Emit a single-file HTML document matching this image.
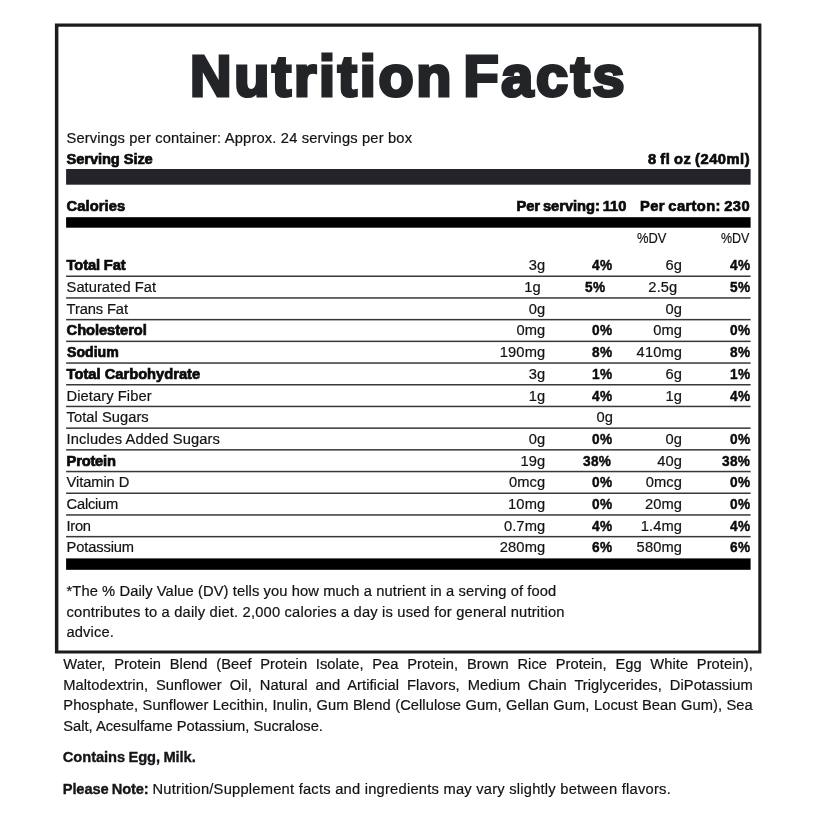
<!DOCTYPE html>
<html lang="en"><head><meta charset="utf-8"><title>Nutrition Facts</title>
<style>
html,body{margin:0;padding:0;background:#fff}
body{width:823px;height:823px;position:relative;overflow:hidden;font-family:"Liberation Sans",Arial,sans-serif;color:#121316}
p,section,div{margin:0;padding:0}
.gfx{position:absolute;left:0;top:0}
.t{position:absolute;white-space:nowrap;font-size:14.7px;line-height:20.0px;margin:0;font-weight:400;transform-origin:0 0;-webkit-text-stroke:0.2px #121316}
b.t{font-weight:700;color:#0b0b0d;-webkit-text-stroke:0.7px #0b0b0d}
b.pc{-webkit-text-stroke:0.45px #0b0b0d}
p b.t{color:#141518;-webkit-text-stroke:0.35px #141518}
h1.title{position:absolute;margin:0;white-space:nowrap;font-weight:700;font-size:57.5px;line-height:70px;letter-spacing:2.75px;word-spacing:-9.5px;color:#222428;-webkit-text-stroke:3.2px #222428}
.j{width:689.5px;text-align:justify;text-align-last:justify;white-space:normal;letter-spacing:0.05px}
</style></head><body>
<svg class="gfx" width="823" height="823" viewBox="0 0 823 823" aria-hidden="true"><path fill-rule="evenodd" fill="#1b1c20" d="M54.9 23.5H761.4V653.6H54.9Z M58.4 26.8V650.5H758.3V26.8Z"/><rect x="66.1" y="169.0" width="684.5" height="15.7" fill="#222428"/><rect x="66.1" y="217.2" width="684.5" height="10.5" fill="#000"/><rect x="66.1" y="558.4" width="684.5" height="11.4" fill="#000"/><rect x="66.1" y="275.50" width="684.5" height="1.5" fill="#37383b"/><rect x="66.1" y="297.20" width="684.5" height="1.5" fill="#37383b"/><rect x="66.1" y="318.90" width="684.5" height="1.5" fill="#37383b"/><rect x="66.1" y="340.60" width="684.5" height="1.5" fill="#37383b"/><rect x="66.1" y="362.30" width="684.5" height="1.5" fill="#37383b"/><rect x="66.1" y="384.00" width="684.5" height="1.5" fill="#37383b"/><rect x="66.1" y="405.70" width="684.5" height="1.5" fill="#37383b"/><rect x="66.1" y="427.40" width="684.5" height="1.5" fill="#37383b"/><rect x="66.1" y="449.10" width="684.5" height="1.5" fill="#37383b"/><rect x="66.1" y="470.80" width="684.5" height="1.5" fill="#37383b"/><rect x="66.1" y="492.50" width="684.5" height="1.5" fill="#37383b"/><rect x="66.1" y="514.20" width="684.5" height="1.5" fill="#37383b"/><rect x="66.1" y="535.90" width="684.5" height="1.5" fill="#37383b"/></svg>
<section class="label">
<h1 class="title" style="left:189.9px;top:41.06px">Nutrition Facts</h1>
<div class="hdr">
<span class="t" style="left:66.5px;top:128.3px;letter-spacing:0.166px">Servings per container: Approx. 24 servings per box</span>
<b class="t" style="left:66.6px;top:148.8px;letter-spacing:-0.104px">Serving Size</b>
<b class="t" style="left:648px;top:148.8px;letter-spacing:0.511px;word-spacing:-0.9px">8 fl oz (240ml)</b>
<b class="t" style="left:66.6px;top:196.4px;letter-spacing:0.076px">Calories</b>
<b class="t" style="left:516.4px;top:196.4px;letter-spacing:-0.046px;word-spacing:-1.0px">Per serving: 110</b>
<b class="t" style="left:640px;top:196.4px;letter-spacing:0.39px;word-spacing:-1.0px">Per carton: 230</b>
<span class="t" style="left:636.5px;top:227.9px;transform:translateY(-0.5px) scaleX(0.8784)">%DV</span>
<span class="t" style="left:721.2px;top:227.9px;transform:translateY(-0.5px) scaleX(0.8486)">%DV</span>
</div>
<div class="row">
<b class="t" style="left:66.6px;top:255.3px;letter-spacing:-0.139px">Total Fat</b>
<span class="t" style="left:528.74px;top:255.3px;letter-spacing:0.12px">3g</span>
<b class="t pc" style="left:592.17px;top:255.3px;letter-spacing:0.3px;transform:scaleX(0.93)">4%</b>
<span class="t" style="left:665.54px;top:255.3px;letter-spacing:0.12px">6g</span>
<b class="t pc" style="left:729.57px;top:255.3px;letter-spacing:0.3px;transform:scaleX(0.93)">4%</b>
</div>
<div class="row">
<span class="t" style="left:66.6px;top:277.0px;letter-spacing:0.033px">Saturated Fat</span>
<span class="t" style="left:524.34px;top:277.0px;letter-spacing:0.12px">1g</span>
<b class="t pc" style="left:585.07px;top:277.0px;letter-spacing:0.3px;transform:scaleX(0.93)">5%</b>
<span class="t" style="left:648.35px;top:277.0px;letter-spacing:0.12px">2.5g</span>
<b class="t pc" style="left:729.57px;top:277.0px;letter-spacing:0.3px;transform:scaleX(0.93)">5%</b>
</div>
<div class="row">
<span class="t" style="left:66.6px;top:298.7px;letter-spacing:-0.114px">Trans Fat</span>
<span class="t" style="left:528.74px;top:298.7px;letter-spacing:0.12px">0g</span>
<span class="t" style="left:665.54px;top:298.7px;letter-spacing:0.12px">0g</span>
</div>
<div class="row">
<b class="t" style="left:66.6px;top:320.4px;letter-spacing:-0.06px">Cholesterol</b>
<span class="t" style="left:516.38px;top:320.4px;letter-spacing:0.12px">0mg</span>
<b class="t pc" style="left:592.17px;top:320.4px;letter-spacing:0.3px;transform:scaleX(0.93)">0%</b>
<span class="t" style="left:653.18px;top:320.4px;letter-spacing:0.12px">0mg</span>
<b class="t pc" style="left:729.57px;top:320.4px;letter-spacing:0.3px;transform:scaleX(0.93)">0%</b>
</div>
<div class="row">
<b class="t" style="left:66.6px;top:342.1px;transform:scaleX(0.9599)">Sodium</b>
<span class="t" style="left:499.8px;top:342.1px;letter-spacing:0.12px">190mg</span>
<b class="t pc" style="left:592.17px;top:342.1px;letter-spacing:0.3px;transform:scaleX(0.93)">8%</b>
<span class="t" style="left:636.6px;top:342.1px;letter-spacing:0.12px">410mg</span>
<b class="t pc" style="left:729.57px;top:342.1px;letter-spacing:0.3px;transform:scaleX(0.93)">8%</b>
</div>
<div class="row">
<b class="t" style="left:66.6px;top:363.8px">Total Carbohydrate</b>
<span class="t" style="left:528.74px;top:363.8px;letter-spacing:0.12px">3g</span>
<b class="t pc" style="left:592.17px;top:363.8px;letter-spacing:0.3px;transform:scaleX(0.93)">1%</b>
<span class="t" style="left:665.54px;top:363.8px;letter-spacing:0.12px">6g</span>
<b class="t pc" style="left:729.57px;top:363.8px;letter-spacing:0.3px;transform:scaleX(0.93)">1%</b>
</div>
<div class="row">
<span class="t" style="left:66.6px;top:385.5px;letter-spacing:0.077px">Dietary Fiber</span>
<span class="t" style="left:528.74px;top:385.5px;letter-spacing:0.12px">1g</span>
<b class="t pc" style="left:592.17px;top:385.5px;letter-spacing:0.3px;transform:scaleX(0.93)">4%</b>
<span class="t" style="left:665.54px;top:385.5px;letter-spacing:0.12px">1g</span>
<b class="t pc" style="left:729.57px;top:385.5px;letter-spacing:0.3px;transform:scaleX(0.93)">4%</b>
</div>
<div class="row">
<span class="t" style="left:66.6px;top:407.2px;letter-spacing:0.042px">Total Sugars</span>
<span class="t" style="left:596.54px;top:407.2px;letter-spacing:0.12px">0g</span>
</div>
<div class="row">
<span class="t" style="left:66.6px;top:428.9px;letter-spacing:0.111px">Includes Added Sugars</span>
<span class="t" style="left:528.74px;top:428.9px;letter-spacing:0.12px">0g</span>
<b class="t pc" style="left:592.17px;top:428.9px;letter-spacing:0.3px;transform:scaleX(0.93)">0%</b>
<span class="t" style="left:665.54px;top:428.9px;letter-spacing:0.12px">0g</span>
<b class="t pc" style="left:729.57px;top:428.9px;letter-spacing:0.3px;transform:scaleX(0.93)">0%</b>
</div>
<div class="row">
<b class="t" style="left:66.6px;top:450.6px;letter-spacing:-0.218px">Protein</b>
<span class="t" style="left:520.44px;top:450.6px;letter-spacing:0.12px">19g</span>
<b class="t pc" style="left:583.09px;top:450.6px;letter-spacing:0.3px;transform:scaleX(0.93)">38%</b>
<span class="t" style="left:657.24px;top:450.6px;letter-spacing:0.12px">40g</span>
<b class="t pc" style="left:721.69px;top:450.6px;letter-spacing:0.3px;transform:scaleX(0.93)">38%</b>
</div>
<div class="row">
<span class="t" style="left:66.6px;top:472.3px;letter-spacing:-0.088px">Vitamin D</span>
<span class="t" style="left:508.92px;top:472.3px;letter-spacing:0.12px">0mcg</span>
<b class="t pc" style="left:592.17px;top:472.3px;letter-spacing:0.3px;transform:scaleX(0.93)">0%</b>
<span class="t" style="left:645.72px;top:472.3px;letter-spacing:0.12px">0mcg</span>
<b class="t pc" style="left:729.57px;top:472.3px;letter-spacing:0.3px;transform:scaleX(0.93)">0%</b>
</div>
<div class="row">
<span class="t" style="left:66.6px;top:494.0px;letter-spacing:-0.227px">Calcium</span>
<span class="t" style="left:508.09px;top:494.0px;letter-spacing:0.12px">10mg</span>
<b class="t pc" style="left:592.17px;top:494.0px;letter-spacing:0.3px;transform:scaleX(0.93)">0%</b>
<span class="t" style="left:644.89px;top:494.0px;letter-spacing:0.12px">20mg</span>
<b class="t pc" style="left:729.57px;top:494.0px;letter-spacing:0.3px;transform:scaleX(0.93)">0%</b>
</div>
<div class="row">
<span class="t" style="left:66.6px;top:515.7px;letter-spacing:-0.337px">Iron</span>
<span class="t" style="left:503.89px;top:515.7px;letter-spacing:0.12px">0.7mg</span>
<b class="t pc" style="left:592.17px;top:515.7px;letter-spacing:0.3px;transform:scaleX(0.93)">4%</b>
<span class="t" style="left:640.69px;top:515.7px;letter-spacing:0.12px">1.4mg</span>
<b class="t pc" style="left:729.57px;top:515.7px;letter-spacing:0.3px;transform:scaleX(0.93)">4%</b>
</div>
<div class="row">
<span class="t" style="left:66.6px;top:537.4px;letter-spacing:-0.135px">Potassium</span>
<span class="t" style="left:499.8px;top:537.4px;letter-spacing:0.12px">280mg</span>
<b class="t pc" style="left:592.17px;top:537.4px;letter-spacing:0.3px;transform:scaleX(0.93)">6%</b>
<span class="t" style="left:636.6px;top:537.4px;letter-spacing:0.12px">580mg</span>
<b class="t pc" style="left:729.57px;top:537.4px;letter-spacing:0.3px;transform:scaleX(0.93)">6%</b>
</div>
<p class="note">
<span class="t" style="left:66.5px;top:580.9px;letter-spacing:0.103px">*The % Daily Value (DV) tells you how much a nutrient in a serving of food</span>
<span class="t" style="left:66.5px;top:601.5px;letter-spacing:0.188px">contributes to a daily diet. 2,000 calories a day is used for general nutrition</span>
<span class="t" style="left:66.5px;top:621.9px;letter-spacing:0.12px">advice.</span>
</p>
</section>
<p class="ingredients">
<span class="t j" style="left:63.3px;top:654.4px">Water, Protein Blend (Beef Protein Isolate, Pea Protein, Brown Rice Protein, Egg White Protein),</span>
<span class="t j" style="left:63.3px;top:674.9px">Maltodextrin, Sunflower Oil, Natural and Artificial Flavors, Medium Chain Triglycerides, DiPotassium</span>
<span class="t j" style="left:63.3px;top:695.4px">Phosphate, Sunflower Lecithin, Inulin, Gum Blend (Cellulose Gum, Gellan Gum, Locust Bean Gum), Sea</span>
<span class="t" style="left:63.3px;top:715.9px">Salt, Acesulfame Potassium, Sucralose.</span>
</p>
<p class="contains">
<b class="t" style="left:62.8px;top:747.3px;letter-spacing:-0.07px;word-spacing:-0.6px">Contains Egg, Milk.</b>
</p>
<p class="pn">
<b class="t" style="left:62.8px;top:778.9px;letter-spacing:-0.152px;word-spacing:-0.6px">Please Note:</b>
<span class="t" style="left:152.5px;top:778.9px;letter-spacing:0.234px">Nutrition/Supplement facts and ingredients may vary slightly between flavors.</span>
</p>
</body></html>
